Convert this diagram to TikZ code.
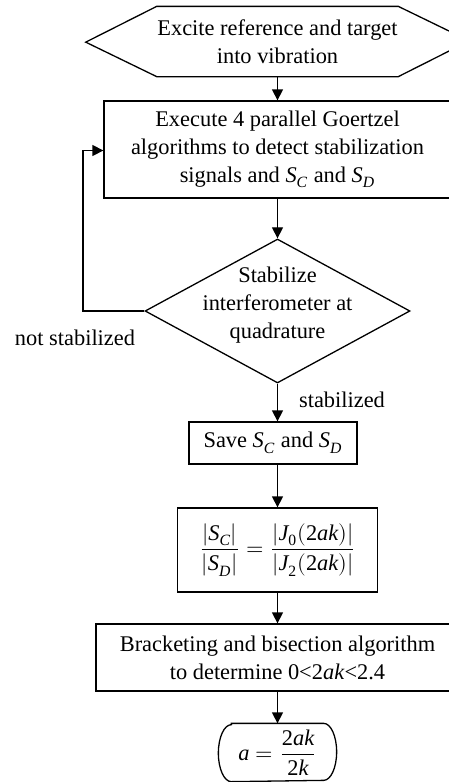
\documentclass[tikz,border=0pt]{standalone}
\usepackage{amsmath}
\usepackage{unicode-math}
\setmainfont{Liberation Serif}
\setmathfont{Latin Modern Math}
\setmathfont[range={it->up}]{Liberation Serif Italic}
\setmathfont[range={up/num}]{Liberation Serif}
\usetikzlibrary{shapes.geometric,arrows.meta}
\tikzset{
    start-box/.style = {rectangle, align=center, inner sep=0pt},
    process-box/.style = {draw, rectangle, align=center, inner sep=0pt},
    decision-box/.style = {draw, diamond, inner sep=0pt},
    end-box/.style = {rectangle, align=center, inner sep=0pt},
    note-text/.style = {align=center, inner sep=0pt},
    flow-arrow/.style = {-{Triangle[length=5.5pt, width=5.5pt]}},
}

\begin{document}
\begin{tikzpicture}[x=0.5pt, y=-0.5pt, line width=0.65pt, font=\fontsize{11.2pt}{14pt}\selectfont]
\useasboundingbox (0,0) rectangle (449,782);
\node[start-box, minimum width=103pt, minimum height=34.5pt] (start) at (277.5,41.5) {Excite reference and target\\into vibration};
\draw (start.north west) -- (start.north east) -- ++(71,34.5) -- (start.south east) -- (start.south west) -- ++(-71,-34.5) -- cycle;
\node[process-box, minimum width=173.5pt, minimum height=48.5pt] (goertzel) at (277.5,149.5) {Execute 4 parallel Goertzel\\algorithms to detect stabilization\\signals and $S_C$ and $S_D$};
\node[decision-box, minimum width=132.5pt, minimum height=72pt, label={[align=center, yshift=3pt]center:Stabilize\\interferometer at\\quadrature}] (stabilize) at (277.5,311) {};
\node[process-box, minimum width=84pt, minimum height=21pt] (save) at (273,443) {Save $S_C$ and $S_D$};
\node[process-box, minimum width=100pt, minimum height=42pt] (ratio) at (277.5,550) {$\dfrac{|S_C|}{|S_D|}=\dfrac{|J_0(2ak)|}{|J_2(2ak)|}$};
\node[process-box, minimum width=181.5pt, minimum height=33.5pt] (bisect) at (277.5,657.5) {Bracketing and bisection algorithm\\to determine 0<2\textit{ak}<2.4};
\node[end-box, minimum width=58.5pt, minimum height=28.5pt] (result) at (277.5,752.5) {$a=\dfrac{2ak}{2k}$};
\draw ([xshift=6.5pt]result.north west) -- ([xshift=-6.5pt]result.north east) arc[start angle=90, end angle=-90, x radius=6.5pt, y radius=14.25pt] -- ([xshift=6.5pt]result.south west) arc[start angle=270, end angle=90, x radius=6.5pt, y radius=14.25pt] -- cycle;
\node[note-text] (notstab) at (75,338) {not stabilized};
\node[note-text] (stab) at (342,400) {stabilized};
\coordinate (loop) at (83,150.5);

\draw[flow-arrow] (start) -- (goertzel);
\draw[flow-arrow] (goertzel) -- (stabilize);
\draw[flow-arrow] (stabilize.south) -- (stabilize.south |- save.north);
\draw[flow-arrow] (ratio.north |- save.south) -- (ratio.north);
\draw[flow-arrow] (ratio) -- (bisect);
\draw[flow-arrow] (bisect) -- (result);
\draw[flow-arrow] (stabilize.west) -| (loop) -- (loop -| goertzel.west);
\end{tikzpicture}
\end{document}
